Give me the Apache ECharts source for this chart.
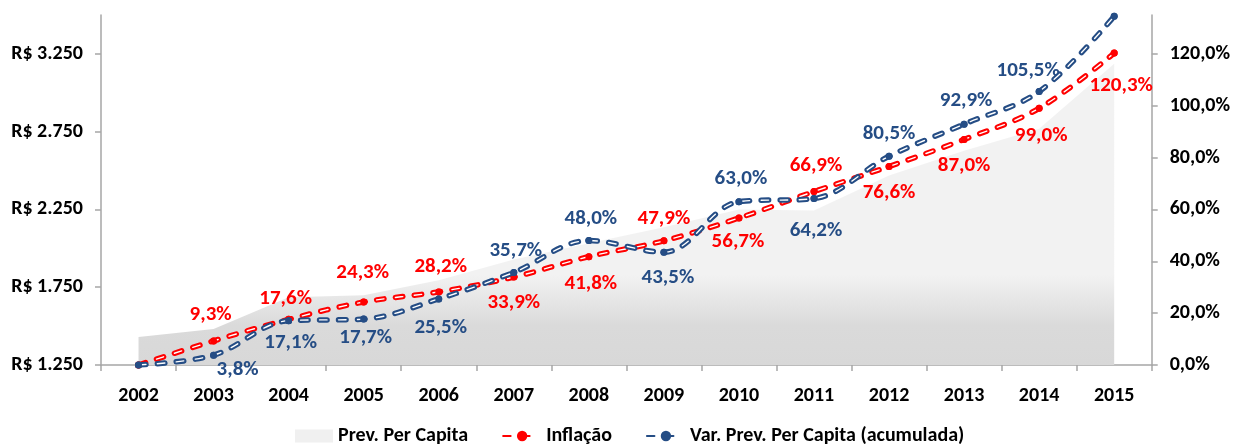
<!DOCTYPE html>
<html>
<head>
<meta charset="utf-8">
<script src="https://cdn.jsdelivr.net/npm/echarts@6/dist/echarts.min.js"></script>
<style>
html,body{margin:0;padding:0;background:#fff;}
#chart{width:1233px;height:445px;}
</style>
</head>
<body>
<div id="chart"></div>
<script>
// ---- data ----
const years = ['2002','2003','2004','2005','2006','2007','2008','2009','2010','2011','2012','2013','2014','2015'];
const prevPerCapita = [1430, 1481, 1686, 1699, 1795, 1929, 2032, 2135, 2250, 2244, 2468, 2628, 2769, 3186];
const inflacao = [0, 9.3, 17.6, 24.3, 28.2, 33.9, 41.8, 47.9, 56.7, 66.9, 76.6, 87.0, 99.0, 120.3];
const varPrev = [0, 3.8, 17.1, 17.7, 25.5, 35.7, 48.0, 43.5, 63.0, 64.2, 80.5, 92.9, 105.5, 134.5];
const leftTicks = [1250, 1750, 2250, 2750, 3250];
const rightTicks = [0, 20, 40, 60, 80, 100, 120];

// ---- label placement (style, kept apart from the data) ----
const inflLabelOffset = [null,[-3,-26],[-3,-21],[-1,-29],[2,-25],[0,26],[2,27],[0,-22],[-1,24],[2,-26],[0,26],[0,26],[2,27],[7,33]];
const varLabelOffset = [null,[24,15],[2,22],[2,19],[2,29],[2,-22],[2,-22],[4,26],[2,-23],[2,32],[0,-23],[2,-23],[-11,-21],null];

const FONT = "'Liberation Sans Narrow','Arial Narrow',Carlito,Calibri,Lato,sans-serif";
const RED = '#ff0000';
const BLUE = '#254d85';
const AXIS = '#a6a6a6';

function pct(v){ return v.toFixed(1).replace('.', ',') + '%'; }
function brl(v){ return 'R$ ' + String(v).replace(/\B(?=(\d{3})+(?!\d))/g, '.'); }

function labeled(values, offsets, color){
  return values.map((v, i) => {
    const off = offsets[i];
    if (!off) return { value: v, label: { show: false } };
    return { value: v, label: { show: true, position: 'inside', offset: off, color: color } };
  });
}

const chart = echarts.init(document.getElementById('chart'), null, {renderer: 'canvas'});

const dash = [7.5, 11.5];
const option = {
  animation: false,
  textStyle: { fontFamily: FONT },
  grid: { left: 101, right: 81, top: 15, bottom: 80, containLabel: false },
  legend: {
    top: 421,
    left: 290,
    itemWidth: 38,
    itemHeight: 13,
    itemGap: 34,
    textStyle: { fontFamily: FONT, fontWeight: 'bold', fontSize: 20, color: '#000' },
    data: [
      { name: 'Prev. Per Capita', icon: 'rect', itemStyle: { color: '#f0f0f0' } },
      { name: 'Inflação' },
      { name: 'Var. Prev. Per Capita (acumulada)' }
    ]
  },
  xAxis: {
    type: 'category',
    data: years,
    boundaryGap: true,
    axisLine: { lineStyle: { color: AXIS, width: 1.5 } },
    axisTick: { show: true, length: 6, lineStyle: { color: AXIS, width: 1.5 } },
    axisLabel: { color: '#000', fontWeight: 'bold', fontSize: 20, fontFamily: FONT, margin: 21 }
  },
  yAxis: [
    {
      type: 'value', min: 1250, max: 3500,
      splitLine: { show: false },
      axisLine: { show: true, lineStyle: { color: AXIS, width: 1.5 } },
      axisTick: { show: true, length: 6, customValues: leftTicks, lineStyle: { color: AXIS, width: 1.5 } },
      axisLabel: { customValues: leftTicks, color: '#000', fontWeight: 'bold', fontSize: 20, fontFamily: FONT, margin: 18, formatter: brl }
    },
    {
      type: 'value', min: 0, max: 135,
      splitLine: { show: false },
      axisLine: { show: true, lineStyle: { color: AXIS, width: 1.5 } },
      axisTick: { show: true, length: 6, customValues: rightTicks, lineStyle: { color: AXIS, width: 1.5 } },
      axisLabel: { customValues: rightTicks, color: '#000', fontWeight: 'bold', fontSize: 20, fontFamily: FONT, margin: 18, formatter: pct }
    }
  ],
  series: [
    {
      name: 'Prev. Per Capita',
      type: 'line',
      yAxisIndex: 0,
      data: prevPerCapita,
      symbol: 'none',
      lineStyle: { width: 0 },
      itemStyle: { color: '#f0f0f0' },
      areaStyle: {
        opacity: 1,
        color: new echarts.graphic.LinearGradient(0, 0, 0, 1, [
          { offset: 0, color: '#f2f2f2' },
          { offset: 0.7, color: '#f2f2f2' },
          { offset: 0.87, color: '#dadada' },
          { offset: 1, color: '#d8d8d8' }
        ])
      },
      z: 1
    },
    {
      name: 'Inflação',
      type: 'line',
      yAxisIndex: 1,
      data: labeled(inflacao, inflLabelOffset, RED),
      smooth: 0.35,
      symbol: 'circle', symbolSize: 7,
      itemStyle: { color: RED },
      lineStyle: { color: RED, width: 5.5, type: dash, cap: 'round' },
      label: { fontFamily: FONT, fontWeight: 'bold', fontSize: 21, formatter: p => pct(p.value) },
      z: 3
    },
    {
      name: 'Inflação-inner',
      type: 'line',
      yAxisIndex: 1,
      data: inflacao,
      smooth: 0.35,
      symbol: 'circle', symbolSize: 7,
      itemStyle: { color: RED },
      lineStyle: { color: '#ffffff', width: 1.4, type: dash, cap: 'round' },
      label: { show: false },
      z: 4, silent: true
    },
    {
      name: 'Var. Prev. Per Capita (acumulada)',
      type: 'line',
      yAxisIndex: 1,
      data: labeled(varPrev, varLabelOffset, BLUE),
      smooth: 0.35,
      symbol: 'circle', symbolSize: 7,
      itemStyle: { color: BLUE },
      lineStyle: { color: BLUE, width: 5.5, type: dash, cap: 'round' },
      label: { fontFamily: FONT, fontWeight: 'bold', fontSize: 21, formatter: p => pct(p.value) },
      z: 5
    },
    {
      name: 'Var-inner',
      type: 'line',
      yAxisIndex: 1,
      data: varPrev,
      smooth: 0.35,
      symbol: 'circle', symbolSize: 7,
      itemStyle: { color: BLUE },
      lineStyle: { color: '#ffffff', width: 1.4, type: dash, cap: 'round' },
      label: { show: false },
      z: 6, silent: true
    }
  ]
};
chart.setOption(option);
</script>
</body>
</html>
